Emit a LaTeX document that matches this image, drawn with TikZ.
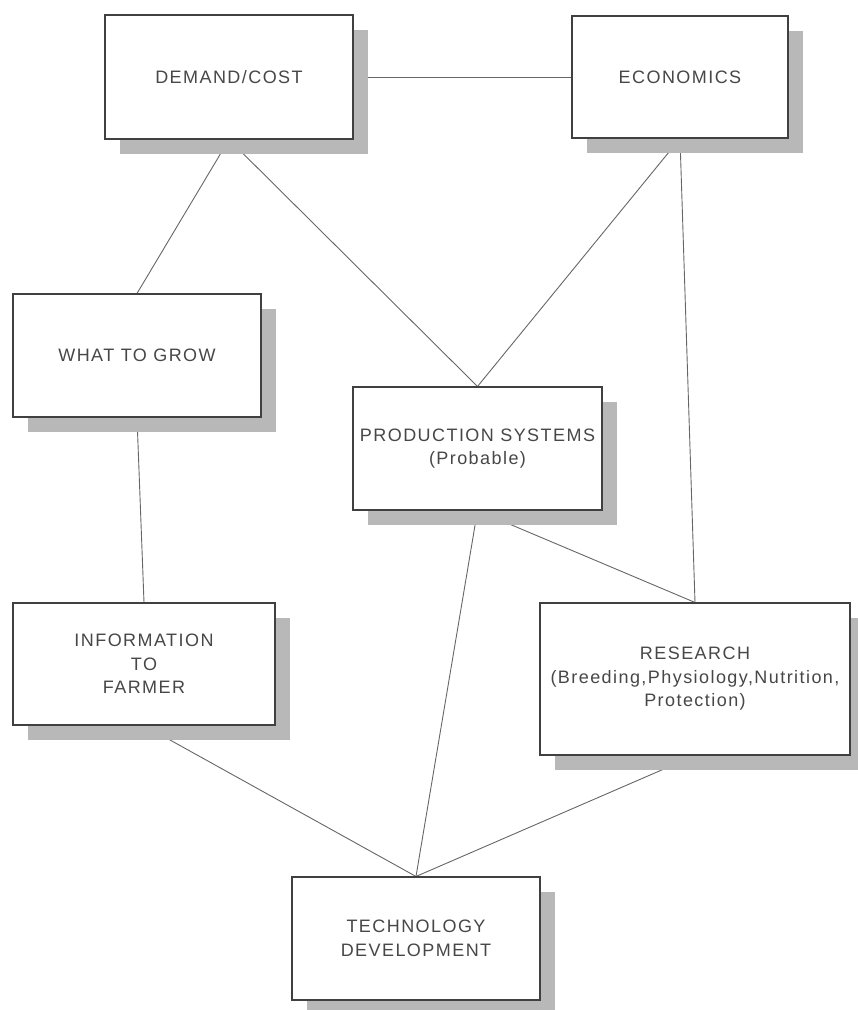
\documentclass[tikz,border=0pt]{standalone}
\usepackage{fontspec}
\newfontfamily\boxfont[LetterSpace=8]{Liberation Sans}
\usetikzlibrary{shadows,backgrounds}
\begin{document}
\begin{tikzpicture}[x=1pt,y=-1pt,
  box/.style={draw=black!75, line width=1.1pt, fill=white, inner sep=0pt, align=center,
    font=\boxfont\fontsize{18}{23.5}\selectfont, text=black!72,
    drop shadow={shadow xshift=15pt, shadow yshift=-15pt, fill=black!28, opacity=1}},
  link/.style={draw=black!60, line width=0.9pt}]
\useasboundingbox (0,0) rectangle (858,1010);
\clip (0,0) rectangle (858,1010);
\node[box, minimum width=248pt, minimum height=124pt] (dc) at (229,77) {DEMAND/COST};
\node[box, minimum width=216pt, minimum height=122pt] (econ) at (680,77) {ECONOMICS};
\node[box, minimum width=248pt, minimum height=123pt] (what) at (137,355.5) {WHAT TO GROW};
\node[box, minimum width=249pt, minimum height=123pt] (prod) at (477.5,448.5) {PRODUCTION SYSTEMS\\(Probable)};
\node[box, minimum width=262pt, minimum height=122pt] (info) at (144,664) {INFORMATION\\TO\\FARMER};
\node[box, minimum width=310pt, minimum height=152pt] (res) at (695,679) {RESEARCH\\(Breeding,Physiology,Nutrition,\\Protection)};
\node[box, minimum width=248pt, minimum height=123pt] (tech) at (416,938.5) {TECHNOLOGY\\DEVELOPMENT};
\begin{scope}[on background layer]
\draw[link] (dc.east) -- (econ.west);
\draw[link] (dc.south) -- (what.north);
\draw[link] (dc.south) -- (prod.north);
\draw[link] (econ.south) -- (prod.north);
\draw[link] (econ.south) -- (res.north);
\draw[link] (what.south) -- (info.north);
\draw[link] (prod.south) -- (res.north);
\draw[link] (prod.south) -- (tech.north);
\draw[link] (info.south) -- (tech.north);
\draw[link] (res.south) -- (tech.north);
\end{scope}
\end{tikzpicture}
\end{document}
